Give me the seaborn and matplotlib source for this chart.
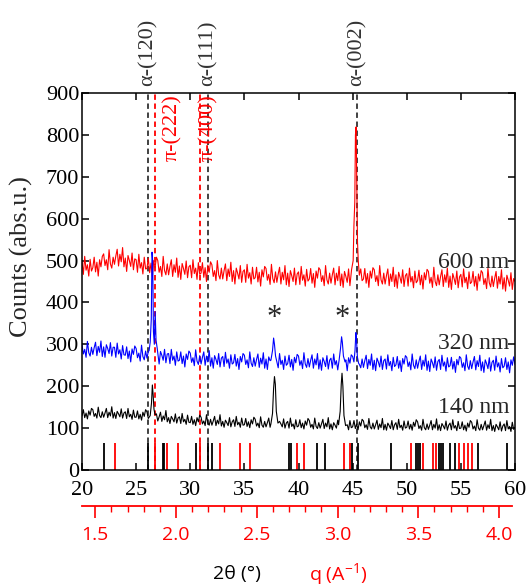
import numpy as np
import matplotlib
matplotlib.use("Agg")
import matplotlib.pyplot as plt
import matplotlib.transforms as mtransforms
import seaborn as sns

# 2theta grid (deg) for the baseline readings, 8 readings per degree
grade = np.arange(20, 60.001, 0.125)

# 600 nm film (red), counts
red_base = [497, 467, 510, 477, 490, 463, 503, 475,
            483, 508, 473, 496, 463, 502, 485, 510,
            516, 488, 502, 478, 526, 492, 482, 508,
            491, 511, 527, 487, 515, 497, 531, 485,
            506, 474, 512, 500, 486, 518, 478, 504,
            502, 472, 515, 482, 495, 468, 508, 480,
            481, 506, 471, 494, 461, 500, 483, 508,
            500, 472, 486, 462, 510, 476, 466, 492,
            466, 486, 502, 462, 490, 472, 506, 460,
            487, 455, 493, 481, 467, 499, 459, 485,
            489, 459, 502, 469, 482, 455, 495, 467,
            470, 495, 460, 483, 450, 489, 472, 497,
            490, 462, 476, 452, 500, 466, 456, 482,
            456, 476, 492, 452, 480, 462, 496, 450,
            476, 444, 482, 470, 456, 488, 448, 474,
            478, 448, 491, 458, 471, 444, 484, 456,
            459, 484, 449, 472, 439, 478, 461, 486,
            481, 453, 467, 443, 491, 457, 447, 473,
            448, 468, 484, 444, 472, 454, 488, 442,
            470, 438, 476, 464, 450, 482, 442, 468,
            473, 443, 486, 453, 466, 439, 479, 451,
            456, 481, 446, 469, 436, 475, 458, 483,
            478, 450, 464, 440, 488, 454, 444, 470,
            446, 466, 482, 442, 470, 452, 486, 440,
            468, 436, 474, 462, 448, 480, 440, 466,
            474, 444, 487, 454, 467, 440, 480, 452,
            456, 481, 446, 469, 436, 475, 458, 483,
            478, 450, 464, 440, 488, 454, 444, 470,
            444, 464, 480, 440, 468, 450, 484, 438,
            466, 434, 472, 460, 446, 478, 438, 464,
            469, 439, 482, 449, 462, 435, 475, 447,
            452, 477, 442, 465, 432, 471, 454, 479,
            474, 446, 460, 436, 484, 450, 440, 466,
            442, 462, 478, 438, 466, 448, 482, 436,
            463, 431, 469, 457, 443, 475, 435, 461,
            467, 437, 480, 447, 460, 433, 473, 445,
            449, 474, 439, 462, 429, 468, 451, 476,
            471, 443, 457, 433, 481, 447, 437, 463,
            438, 458, 474, 434, 462, 444, 478, 432,
            459, 427, 465, 453, 439, 471, 431, 457,
            450]
red_pico_x = [44.9, 45.05, 45.12, 45.2, 45.26, 45.32, 45.38, 45.45, 45.52, 45.62]
red_pico_y = [478, 500, 583, 640, 800, 819, 700, 545, 500, 465]

# 320 nm film (blue)
azul_base = [299, 277, 288, 269, 307, 280, 272, 293,
             276, 292, 305, 273, 295, 281, 308, 271,
             294, 269, 299, 290, 278, 304, 272, 293,
             293, 269, 303, 277, 287, 265, 297, 275,
             274, 294, 266, 284, 258, 289, 276, 296,
             290, 268, 279, 260, 298, 271, 263, 284,
             267, 283, 296, 264, 286, 272, 299, 262,
             278, 253, 283, 274, 262, 288, 256, 277,
             278, 254, 288, 262, 272, 250, 282, 260,
             262, 282, 254, 272, 246, 277, 264, 284,
             279, 257, 268, 249, 287, 260, 252, 273,
             253, 269, 282, 250, 272, 258, 285, 248,
             268, 243, 273, 264, 252, 278, 246, 267,
             271, 247, 281, 255, 265, 243, 275, 253,
             256, 276, 248, 266, 240, 271, 258, 278,
             274, 252, 263, 244, 282, 255, 247, 268,
             248, 264, 277, 245, 267, 253, 280, 243,
             265, 240, 270, 261, 249, 275, 243, 264,
             268, 244, 278, 252, 262, 240, 272, 250,
             254, 274, 246, 264, 238, 269, 256, 276,
             272, 250, 261, 242, 280, 253, 245, 266,
             246, 262, 275, 243, 265, 251, 278, 241,
             263, 238, 268, 259, 247, 273, 241, 262,
             267, 243, 277, 251, 261, 239, 271, 249,
             253, 273, 245, 263, 237, 268, 255, 275,
             271, 249, 260, 241, 279, 252, 244, 265,
             245, 261, 274, 242, 264, 250, 277, 240,
             262, 237, 267, 258, 246, 272, 240, 261,
             265, 241, 275, 249, 259, 237, 269, 247,
             251, 271, 243, 261, 235, 266, 253, 273,
             269, 247, 258, 239, 277, 250, 242, 263,
             243, 259, 272, 240, 262, 248, 275, 238,
             260, 235, 265, 256, 244, 270, 238, 259,
             264, 240, 274, 248, 258, 236, 268, 246,
             249, 269, 241, 259, 233, 264, 251, 271,
             267, 245, 256, 237, 275, 248, 240, 261,
             242, 258, 271, 239, 261, 247, 274, 237,
             258, 233, 263, 254, 242, 268, 236, 257,
             262, 238, 272, 246, 256, 234, 266, 244,
             248, 268, 240, 258, 232, 263, 250, 270,
             252]
azul_pico_x = [26.2, 26.3, 26.4, 26.47, 26.53, 26.6, 26.68, 26.76, 26.84, 26.95,
               37.45, 37.6, 37.7, 37.78, 37.88, 38.0,
               43.75, 43.88, 43.98, 44.05, 44.15, 44.3,
               45.12, 45.22, 45.3, 45.36, 45.44, 45.55]
azul_pico_y = [285, 305, 360, 520, 500, 330, 300, 378, 310, 290,
               262, 285, 315, 300, 272, 258,
               262, 290, 318, 305, 272, 258,
               258, 285, 328, 310, 270, 255]

# 140 nm film (black)
preto_base = [129, 144, 125, 136, 122, 141, 131, 147,
              144, 128, 135, 124, 150, 130, 125, 139,
              126, 136, 147, 125, 138, 129, 151, 124,
              137, 123, 140, 134, 127, 146, 124, 136,
              139, 123, 147, 127, 133, 121, 143, 126,
              126, 141, 122, 133, 119, 138, 128, 144,
              139, 123, 130, 119, 145, 125, 120, 134,
              117, 127, 138, 116, 129, 120, 142, 115,
              125, 111, 128, 122, 115, 134, 112, 124,
              127, 111, 135, 115, 121, 109, 131, 114,
              113, 128, 109, 120, 106, 125, 115, 131,
              126, 110, 117, 106, 132, 112, 107, 121,
              107, 117, 128, 106, 119, 110, 132, 105,
              116, 102, 119, 113, 106, 125, 103, 115,
              120, 104, 128, 108, 114, 102, 124, 107,
              108, 123, 104, 115, 101, 120, 110, 126,
              121, 105, 112, 101, 127, 107, 102, 116,
              103, 113, 124, 102, 115, 106, 128, 101,
              113, 99, 116, 110, 103, 122, 100, 112,
              116, 100, 124, 104, 110, 98, 120, 103,
              105, 120, 101, 112, 98, 117, 107, 123,
              118, 102, 109, 98, 124, 104, 99, 113,
              100, 110, 121, 99, 112, 103, 125, 98,
              110, 96, 113, 107, 100, 119, 97, 109,
              114, 98, 122, 102, 108, 96, 118, 101,
              103, 118, 99, 110, 96, 115, 105, 121,
              117, 101, 108, 97, 123, 103, 98, 112,
              98, 108, 119, 97, 110, 101, 123, 96,
              109, 95, 112, 106, 99, 118, 96, 108,
              113, 97, 121, 101, 107, 95, 117, 100,
              102, 117, 98, 109, 95, 114, 104, 120,
              115, 99, 106, 95, 121, 101, 96, 110,
              97, 107, 118, 96, 109, 100, 122, 95,
              108, 94, 111, 105, 98, 117, 95, 107,
              112, 96, 120, 100, 106, 94, 116, 99,
              100, 115, 96, 107, 93, 112, 102, 118,
              114, 98, 105, 94, 120, 100, 95, 109,
              96, 106, 117, 95, 108, 99, 121, 94,
              106, 92, 109, 103, 96, 115, 93, 105,
              110, 94, 118, 98, 104, 92, 114, 97,
              102]
preto_pico_x = [26.3, 26.42, 26.5, 26.57, 26.65, 26.75,
                37.45, 37.6, 37.7, 37.78, 37.86, 37.95, 38.1,
                43.7, 43.85, 43.95, 44.02, 44.1, 44.2, 44.35]
preto_pico_y = [130, 160, 203, 180, 145, 132,
                110, 135, 195, 223, 205, 140, 112,
                108, 140, 205, 231, 200, 130, 106]

# padroes de referencia (barras)
alfa_barras = [22.06, 26.14, 27.47, 27.55, 30.54, 31.61, 31.98, 39.15, 39.35,
               41.72, 42.49, 44.95, 45.47, 48.54, 50.85, 51.05, 51.25, 53.0,
               53.2, 53.35, 53.97, 54.47, 56.62, 59.29]
pi_barras = [23.07, 26.70, 27.83, 28.91, 30.9, 32.75, 34.56, 35.48, 39.88,
             40.49, 44.18, 44.79, 50.38, 51.46, 52.38, 52.68, 54.83, 55.3,
             55.7, 56.06]
altura_barra = 65

# linhas de indexacao
alfa_linhas = [26.14, 31.61, 45.42]
alfa_nomes = ["α-(120)", "α-(111)", "α-(002)"]
pi_linhas = [26.70, 30.9]
pi_nomes = ["π-(222)", "π-(400)"]

amostras = ["600 nm", "320 nm", "140 nm"]
amostra_y = [496, 303, 150]
asteriscos = [37.77, 44.02]

q_ticks = [1.5, 2.0, 2.5, 3.0, 3.5, 4.0]


def junta(base, px, py):
    base = np.array(base, dtype=float)
    px = np.array(px)
    manter = np.array([np.min(np.abs(px - g)) > 0.07 for g in grade])
    x = np.concatenate([grade[manter], px])
    y = np.concatenate([base[manter], py])
    ordem = np.argsort(x)
    return x[ordem], y[ordem]


sns.set_style("ticks")
plt.rcParams['font.family'] = ['Liberation Serif', 'DejaVu Serif']
plt.rcParams['mathtext.fontset'] = 'custom'
plt.rcParams['mathtext.rm'] = 'Open Sans'
plt.rcParams['mathtext.default'] = 'rm'

fig = plt.figure(figsize=(5.27, 5.88), dpi=100)
ax = fig.add_axes([82 / 527, 1 - 470 / 588, 433 / 527, 377 / 588])

for base, px, py, cor in [(red_base, red_pico_x, red_pico_y, 'red'),
                          (azul_base, azul_pico_x, azul_pico_y, 'blue'),
                          (preto_base, preto_pico_x, preto_pico_y, 'black')]:
    x, y = junta(base, px, py)
    sns.lineplot(x=x, y=y, ax=ax, color=cor, lw=0.8, estimator=None, sort=False)

# barras dos padroes
ax.vlines(alfa_barras, 0, altura_barra, color='black', lw=1.3)
ax.vlines(pi_barras, 0, altura_barra, color='red', lw=1.3)

# linhas tracejadas
for xv in alfa_linhas:
    ax.axvline(xv, color='#333333', lw=1.3, ls=(0, (3, 2)), zorder=1)
for xv in pi_linhas:
    ax.axvline(xv, color='red', lw=1.3, ls=(0, (3, 2)), zorder=1)

trans = mtransforms.blended_transform_factory(ax.transData, ax.transAxes)
for xv, nome in zip(alfa_linhas, alfa_nomes):
    ax.annotate(nome, xy=(xv, 1.0), xycoords=trans, xytext=(0, 5),
                textcoords='offset points', rotation=90, ha='center',
                va='bottom', fontsize=16, color='#333333')
for xv, nome, dx in zip(pi_linhas, pi_nomes, [13, 6]):
    ax.annotate(nome, xy=(xv, 1.0), xycoords=trans, xytext=(dx, -1),
                textcoords='offset points', rotation=90, ha='center',
                va='top', fontsize=16, color='red')

for nome, yv in zip(amostras, amostra_y):
    ax.text(59.5, yv, nome, ha='right', va='center', fontsize=17)
for xv in asteriscos:
    ax.text(xv, 362, '*', ha='center', va='center', fontsize=22)

ax.set_xlim(20, 60)
ax.set_ylim(0, 900)
ax.set_xticks(range(20, 61, 5))
ax.set_yticks(range(0, 901, 100))
ax.tick_params(direction='in', length=5, width=1.1, top=True, right=True,
               labelsize=16, colors='black')
ax.tick_params(axis='x', pad=8)
ax.tick_params(axis='y', pad=2)
for s in ax.spines.values():
    s.set_linewidth(1.1)
    s.set_color('black')
ax.set_ylabel('Counts (abs.u.)', fontsize=19)
ax.yaxis.set_label_coords(-0.113, 0.565)
ax.set_xlabel('')

# eixo secundario em q
axq = fig.add_axes([82 / 527, 1 - 506 / 588, 430 / 527, 0.0001])
axq.set_xlim(1.418, 4.08)
axq.set_xticks(q_ticks)
axq.set_xticks(np.arange(1.5, 4.01, 0.1), minor=True)
axq.set_xticklabels([f"{v:.1f}" for v in q_ticks], fontfamily='Open Sans',
                    fontsize=14, color='red')
axq.set_yticks([])
for lado in ['left', 'right', 'top']:
    axq.spines[lado].set_visible(False)
axq.spines['bottom'].set_color('red')
axq.spines['bottom'].set_linewidth(1.3)
axq.tick_params(axis='x', which='major', direction='out', length=8.5,
                width=1.2, color='red', pad=6)
axq.tick_params(axis='x', which='minor', direction='out', length=4.3,
                width=1.0, color='red')
axq.patch.set_alpha(0)

fig.text(237 / 527, 1 - 574 / 588, '2θ (°)', ha='center', va='center',
         fontfamily='Open Sans', fontsize=14, color='black')
fig.text(338 / 527, 1 - 574 / 588, 'q (A$^{-1}$)', ha='center', va='center',
         fontfamily='Open Sans', fontsize=14, color='red')

fig.savefig('out.png', dpi=100, facecolor='white')
